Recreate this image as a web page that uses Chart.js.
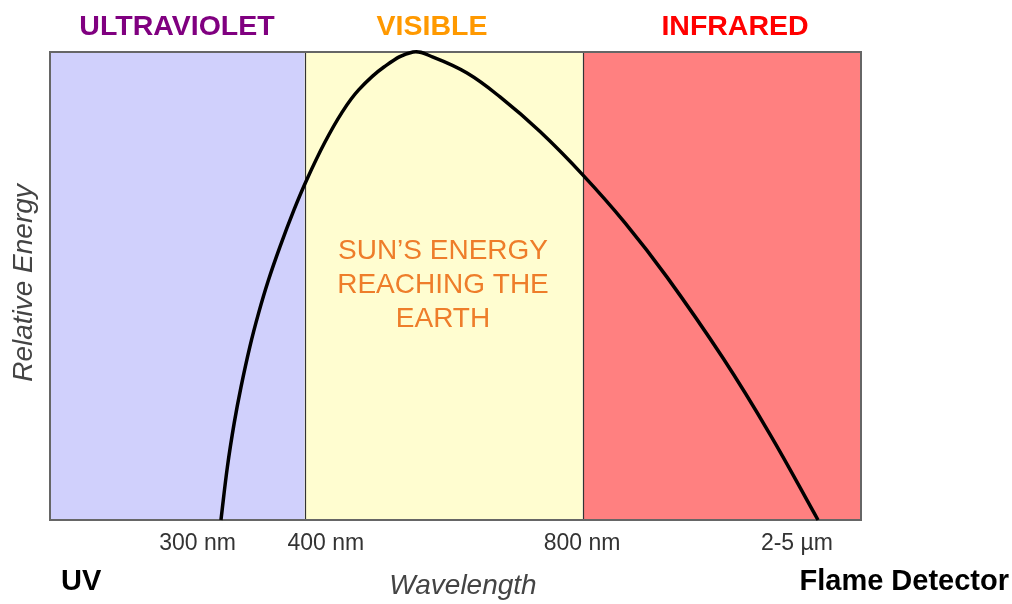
<!DOCTYPE html>
<html>
<head>
<meta charset="utf-8">
<script src="https://cdn.jsdelivr.net/npm/chart.js@4.4.1/dist/chart.umd.min.js"></script>
<style>
  html, body { margin: 0; padding: 0; background: #fff; }
  #wrap { width: 1012px; height: 604px; }
</style>
</head>
<body>
<div id="wrap"><canvas id="spectrum" width="1012" height="604"></canvas></div>
<script>
// bands (x in relative wavelength units 0..100)
const bandNames = ['ULTRAVIOLET', 'VISIBLE', 'INFRARED'];
const bandEdges = [0, 31.4, 65.7, 100];

// tick labels under the plot
const tickLabels = ['300 nm', '400 nm', '800 nm', '2-5 µm'];
const tickPositions = [18.2, 34.0, 65.6, 92.1];

// sun energy curve
const curveX = [21.08, 21.87, 22.71, 23.55, 24.64, 25.72, 26.87, 28.34, 30.07, 31.66, 33.86, 35.97, 38.06, 41.18, 44.76,
  47.23, 51.42, 55.49, 60.42, 65.72, 70.90, 76.08, 82.98, 88.78, 94.70];
const curveY = [0, 11.3, 20.7, 28.4, 37.0, 44.2, 50.9, 58.3, 66.2, 72.7, 80.6, 87.0, 91.9, 96.8, 100,
  98.9, 95.5, 90.4, 83.0, 73.7, 63.5, 51.9, 34.6, 18.3, 0];

const sunText = ['SUN’S ENERGY', 'REACHING THE', 'EARTH'];

// styles
const bandFill = ['#d0d0fc', '#fffdd0', '#ff8080'];
const bandTextColor = ['#800080', '#ff9900', '#ff0000'];

const datasets = [];
datasets.push({
  label: 'Sun',
  data: curveX.map((x, i) => ({ x: x, y: curveY[i] })),
  showLine: true,
  borderColor: '#000',
  borderWidth: 3.5,
  pointRadius: 0,
  tension: 0.4,
  capBezierPoints: false,
  clip: false,
  fill: false,
  order: 0
});
bandNames.forEach((name, i) => {
  datasets.push({
    label: name,
    data: [{ x: bandEdges[i], y: 100 }, { x: bandEdges[i + 1], y: 100 }],
    showLine: true,
    borderWidth: 0,
    borderColor: 'rgba(0,0,0,0)',
    backgroundColor: bandFill[i],
    pointRadius: 0,
    fill: 'origin',
    order: 1
  });
});

const decorPlugin = {
  id: 'decor',
  beforeDatasetDraw(chart, args) {
    if (args.index !== 0) return;
    const { ctx, chartArea, scales } = chart;
    ctx.save();
    // band separators
    ctx.strokeStyle = '#333';
    ctx.lineWidth = 1.2;
    for (let i = 1; i < bandEdges.length - 1; i++) {
      const px = Math.round(scales.x.getPixelForValue(bandEdges[i])) + 0.5;
      ctx.beginPath();
      ctx.moveTo(px, chartArea.top);
      ctx.lineTo(px, chartArea.bottom);
      ctx.stroke();
    }
    // frame
    ctx.strokeStyle = '#666';
    ctx.lineWidth = 2;
    ctx.strokeRect(chartArea.left, chartArea.top, chartArea.right - chartArea.left, chartArea.bottom - chartArea.top);
    ctx.restore();
  },
  afterDraw(chart) {
    const { ctx, scales } = chart;
    ctx.save();
    ctx.textAlign = 'center';
    ctx.textBaseline = 'middle';

    // band names over the plot
    ctx.font = 'bold 28.5px "Liberation Sans", Arial, sans-serif';
    const namePos = [177, 432, 735];
    bandNames.forEach((name, i) => {
      ctx.fillStyle = bandTextColor[i];
      ctx.fillText(name, namePos[i], 27);
    });

    // text in the visible band
    ctx.font = '28px "Liberation Sans", Arial, sans-serif';
    ctx.fillStyle = '#ee7d2a';
    sunText.forEach((line, i) => ctx.fillText(line, 443, 251 + i * 34));

    // tick labels
    ctx.font = '23px "Liberation Sans", Arial, sans-serif';
    ctx.fillStyle = '#333';
    tickLabels.forEach((t, i) => {
      ctx.fillText(t, scales.x.getPixelForValue(tickPositions[i]), 544);
    });

    // axis titles
    ctx.font = 'italic 28px "Liberation Sans", Arial, sans-serif';
    ctx.fillStyle = '#444';
    ctx.fillText('Wavelength', 463, 586);
    ctx.save();
    ctx.translate(24, 283);
    ctx.rotate(-Math.PI / 2);
    ctx.fillText('Relative Energy', 0, 0);
    ctx.restore();

    // corner labels
    ctx.font = 'bold 29px "Liberation Sans", Arial, sans-serif';
    ctx.fillStyle = '#000';
    ctx.textAlign = 'left';
    ctx.fillText('UV', 61, 582);
    ctx.textAlign = 'right';
    ctx.fillText('Flame Detector', 1009, 582);
    ctx.restore();
  }
};

new Chart(document.getElementById('spectrum'), {
  type: 'scatter',
  data: { datasets: datasets },
  options: {
    responsive: false,
    animation: false,
    layout: { padding: { left: 50, right: 151, top: 52, bottom: 84 } },
    scales: {
      x: { type: 'linear', min: 0, max: 100, display: false },
      y: { type: 'linear', min: 0, max: 100, display: false }
    },
    plugins: {
      legend: { display: false },
      tooltip: { enabled: false }
    }
  },
  plugins: [decorPlugin]
});
</script>
</body>
</html>
